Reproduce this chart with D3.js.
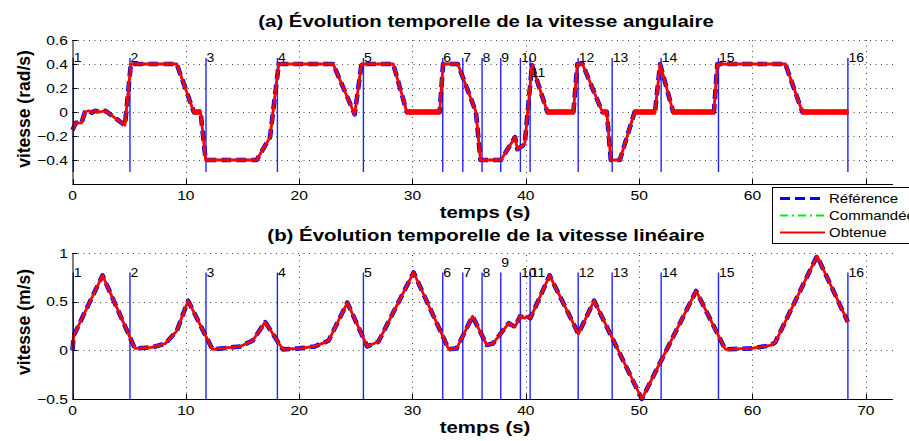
<!DOCTYPE html>
<html>
<head>
<meta charset="utf-8">
<script src="https://cdn.jsdelivr.net/npm/d3@7/dist/d3.min.js"></script>
<style>
  body { margin: 0; background: #fff; }
  svg { display: block; }
  text { font-family: "Liberation Sans", Arial, Helvetica, sans-serif; fill: #000; }
</style>
</head>
<body>
<svg id="chart" width="909" height="441"></svg>
<script>
// ---- data ---------------------------------------------------------------
// angular velocity (rad/s) versus time (s)
const omegaTime = [0, 0.3, 0.8, 1.1, 1.4, 1.7, 2.0, 2.4, 2.9, 3.2, 3.75, 4.63, 5.15, 9.2, 10.7, 11.3, 11.75,
  16.25, 17.43, 18.2, 23.0, 24.9, 25.5, 28.3, 29.5, 32.4, 32.7, 34.0, 35.6, 36.0, 37.8, 39.05, 39.25, 39.9,
  40.55, 41.9, 44.2, 44.55, 45.0, 46.75, 47.15, 47.5, 48.3, 49.6, 51.4, 51.85, 53.0, 56.6, 56.9, 62.9, 64.4, 68.42];
const omegaValue = [-0.15, -0.09, -0.09, 0.0, 0.01, -0.005, 0.01, 0.0, 0.01, -0.01, -0.05, -0.11, 0.4, 0.4, 0.0, 0.0, -0.4,
  -0.4, -0.21, 0.4, 0.4, -0.02, 0.4, 0.4, 0.0, 0.0, 0.4, 0.4, 0.0, -0.4, -0.4, -0.21, -0.31, -0.27,
  0.39, 0.0, 0.0, 0.4, 0.4, 0.0, 0.0, -0.4, -0.4, 0.0, 0.0, 0.4, 0.0, 0.0, 0.4, 0.4, 0.0, 0.0];
// intervals where the measured angular velocity chatters around zero
const omegaChatter = [[10.7, 11.3], [29.5, 32.4], [41.9, 44.2], [46.75, 47.15], [49.6, 51.4], [53.0, 56.6], [64.4, 68.42]];
const chatterAmp = 0.017;

// linear velocity (m/s) versus time (s)
const speedTime = [0, 0.1, 2.65, 5.5, 7.0, 8.2, 9.2, 10.2, 12.35, 14.8, 15.9, 17.0, 18.55, 20.0, 21.4, 22.6, 24.25,
  26.0, 27.0, 30.1, 33.2, 33.9, 35.3, 36.55, 37.1, 38.5, 39.05, 39.5, 39.9, 40.1, 40.4, 42.1, 44.64, 46.03,
  50.24, 55.03, 57.6, 59.9, 61.56, 62.0, 65.7, 68.42];
const speedValue = [0.0, 0.15, 0.77, 0.02, 0.03, 0.07, 0.2, 0.51, 0.01, 0.04, 0.1, 0.29, 0.01, 0.02, 0.04, 0.1, 0.49,
  0.04, 0.09, 0.8, 0.01, 0.02, 0.35, 0.055, 0.07, 0.28, 0.24, 0.35, 0.33, 0.35, 0.33, 0.77, 0.17, 0.51,
  -0.5, 0.61, 0.01, 0.02, 0.05, 0.08, 0.97, 0.29];

// numbered waypoint instants
const eventTimes = [0.07, 5.07, 11.78, 18.08, 25.67, 32.67, 34.44, 36.14, 37.79, 39.52, 40.38, 44.62, 47.62, 51.94, 57.0, 68.42];
const eventLabels = ["1","2","3","4","5","6","7","8","9","10","11","12","13","14","15","16"];
const omegaLabelY = [0.45,0.45,0.45,0.45,0.45,0.45,0.45,0.45,0.45,0.45,0.33,0.45,0.45,0.45,0.45,0.45];
const speedLabelY = [0.8,0.8,0.8,0.8,0.8,0.8,0.8,0.8,0.9,0.8,0.8,0.8,0.8,0.8,0.8,0.8];

const xTicks = [0, 10, 20, 30, 40, 50, 60, 70];
const omegaTicks = [-0.4, -0.2, 0, 0.2, 0.4, 0.6];
const speedTicks = [-0.5, 0, 0.5, 1];

const seriesNames = ["Référence", "Commandée", "Obtenue"];

// ---- layout ------------------------------------------------------------
const svg = d3.select("#chart");
const SX = 1.2; // horizontal text stretch
const x = d3.scaleLinear().domain([0, 72.4]).range([72.5, 893]);

const styles = [
  { color: "#0000ff", width: 4.6, dash: "10,5" },
  { color: "#00ee00", width: 2.4, dash: "8,4,2,4" },
  { color: "#ff0000", width: 2.8, dash: null }
];

function hText(sel, tx, ty, str, opts) {
  const t = sel.append("text")
    .attr("transform", `translate(${tx},${ty}) scale(${opts.sx || SX},1)`)
    .attr("font-size", opts.size)
    .attr("font-weight", opts.bold ? "bold" : "normal")
    .attr("text-anchor", opts.anchor || "start")
    .text(str);
  if (opts.middle) t.attr("dominant-baseline", "central");
  return t;
}

function panel(cfg) {
  const y = d3.scaleLinear().domain(cfg.domain).range(cfg.range);
  const g = svg.append("g");
  const [yb, yt] = cfg.range;
  const x0 = x.range()[0], x1 = x.range()[1];

  // dotted grid
  const grid = g.append("g").attr("stroke", "#444").attr("stroke-width", 1).attr("stroke-dasharray", "1,4.5");
  grid.selectAll("line.gx").data(xTicks.filter(d => d > 0)).join("line")
    .attr("x1", d => Math.round(x(d)) + 0.5).attr("x2", d => Math.round(x(d)) + 0.5)
    .attr("y1", yb).attr("y2", yt);
  grid.selectAll("line.gy").data(cfg.ticks).join("line")
    .attr("x1", x0).attr("x2", x1)
    .attr("y1", d => Math.round(y(d)) + 0.5).attr("y2", d => Math.round(y(d)) + 0.5);

  // waypoint markers
  g.append("g").selectAll("line").data(eventTimes).join("line")
    .attr("x1", d => x(d)).attr("x2", d => x(d))
    .attr("y1", y(cfg.markerRange[0])).attr("y2", y(cfg.markerRange[1]))
    .attr("stroke", "#2222ff").attr("stroke-width", 1.4);

  // curves: reference, commanded, measured
  const line = d3.line().x(d => x(d[0])).y(d => y(d[1]));
  const pts = cfg.t.map((t, i) => [t, cfg.v[i]]);
  styles.forEach(s => {
    g.append("path").datum(pts).attr("d", line)
      .attr("fill", "none").attr("stroke", s.color).attr("stroke-width", s.width)
      .attr("stroke-linejoin", "round")
      .attr("stroke-dasharray", s.dash);
  });
  if (cfg.chatter) {
    g.append("g").selectAll("rect").data(cfg.chatter).join("rect")
      .attr("x", d => x(d[0])).attr("width", d => x(d[1]) - x(d[0]))
      .attr("y", y(cfg.amp)).attr("height", y(-cfg.amp) - y(cfg.amp))
      .attr("fill", "#ff0000").attr("stroke", "#ff0000").attr("stroke-width", 1.5);
  }

  // waypoint numbers
  eventLabels.forEach((lab, i) => {
    hText(g, x(eventTimes[i]) + 0.5, y(cfg.labelY[i]), lab, { size: 13, sx: 1.08, middle: true });
  });

  // axes (inward ticks, no box)
  const ax = g.append("g").attr("stroke", "#000").attr("stroke-width", 1);
  ax.append("line").attr("x1", x0).attr("x2", x1).attr("y1", yb + 0.5).attr("y2", yb + 0.5);
  ax.append("line").attr("x1", x0 + 0.5).attr("x2", x0 + 0.5).attr("y1", yt).attr("y2", yb + 0.5);
  ax.selectAll("line.tx").data(xTicks).join("line")
    .attr("x1", d => Math.round(x(d)) + 0.5).attr("x2", d => Math.round(x(d)) + 0.5)
    .attr("y1", yb).attr("y2", yb - 5);
  ax.selectAll("line.ty").data(cfg.ticks).join("line")
    .attr("x1", x0).attr("x2", x0 + 5)
    .attr("y1", d => Math.round(y(d)) + 0.5).attr("y2", d => Math.round(y(d)) + 0.5);

  const fmt = d3.format("");
  cfg.ticks.forEach(d => hText(g, 68, y(d), fmt(d), { size: 13, anchor: "end", middle: true }));
  cfg.xLabels.forEach(d => hText(g, x(d), yb + 16, String(d), { size: 13, anchor: "middle" }));

  hText(g, 486, cfg.titleY, cfg.title, { size: 17, bold: true, anchor: "middle" });
  hText(g, 485, yb + 34, "temps (s)", { size: 17, bold: true, anchor: "middle" });
  g.append("text")
    .attr("transform", `translate(30,${cfg.yLabelCenter}) rotate(-90)`)
    .attr("font-size", 17.5).attr("font-weight", "bold").attr("text-anchor", "middle")
    .text(cfg.yLabel);
}

panel({
  domain: [-0.6, 0.6], range: [184, 40], ticks: omegaTicks,
  xLabels: xTicks.filter(d => d < 70), // the 70 label sits under the legend
  t: omegaTime, v: omegaValue, chatter: omegaChatter, amp: chatterAmp,
  markerRange: [-0.5, 0.45], labelY: omegaLabelY,
  title: "(a) Évolution temporelle de la vitesse angulaire", titleY: 27,
  yLabel: "vitesse (rad/s)", yLabelCenter: 109
});

panel({
  domain: [-0.5, 1], range: [399, 253], ticks: speedTicks,
  xLabels: xTicks,
  t: speedTime, v: speedValue,
  markerRange: [-0.5, 0.8], labelY: speedLabelY,
  title: "(b) Évolution temporelle de la vitesse linéaire", titleY: 241,
  yLabel: "vitesse (m/s)", yLabelCenter: 322
});

// legend
const lg = svg.append("g");
lg.append("rect").attr("x", 772.5).attr("y", 187.5).attr("width", 150).attr("height", 56)
  .attr("fill", "#fff").attr("stroke", "#000").attr("stroke-width", 1);
seriesNames.forEach((name, i) => {
  const yy = 198.5 + i * 17;
  lg.append("line").attr("x1", 780).attr("x2", 825).attr("y1", yy).attr("y2", yy)
    .attr("stroke", styles[i].color).attr("stroke-width", i === 0 ? 3 : 2)
    .attr("stroke-dasharray", styles[i].dash);
  hText(lg, 829, yy, name, { size: 12.5, middle: true });
});
</script>
</body>
</html>
